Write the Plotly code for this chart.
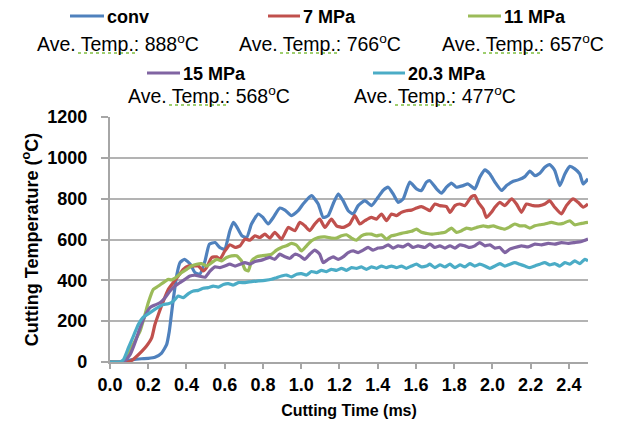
import plotly.graph_objects as go

# ---------------- data ----------------
series_names = ["conv", "7 MPa", "11 MPa", "15 MPa", "20.3 MPa"]
ave_temps = [888, 766, 657, 568, 477]
colors = ["#4F81BD", "#C0504D", "#9BBB59", "#8064A2", "#4BACC6"]

t_conv = [0, 0.05, 0.08, 0.12, 0.165, 0.2, 0.235, 0.27, 0.296, 0.31, 0.33, 0.35, 0.366, 0.39, 0.42, 0.444, 0.47,
          0.497, 0.52, 0.55, 0.575, 0.60, 0.627, 0.645, 0.66, 0.69, 0.715, 0.74, 0.775, 0.80, 0.827, 0.854, 0.888,
          0.915, 0.949, 0.984, 1.01, 1.054, 1.089, 1.115, 1.141, 1.167, 1.193, 1.219, 1.246, 1.272, 1.298, 1.333,
          1.368, 1.402, 1.428, 1.455, 1.481, 1.507, 1.533, 1.568, 1.603, 1.629, 1.655, 1.673, 1.708, 1.734, 1.760,
          1.786, 1.812, 1.847, 1.873, 1.908, 1.934, 1.961, 1.987, 2.013, 2.048, 2.074, 2.109, 2.135, 2.170, 2.196,
          2.222, 2.248, 2.274, 2.300, 2.326, 2.353, 2.379, 2.405, 2.431, 2.457, 2.475, 2.500]
temp_conv = [0, 0, 5, 12, 16, 18, 23, 44, 85, 150, 300, 430, 487, 503, 479, 438, 430, 495, 577, 585, 560, 553, 643,
             684, 667, 618, 610, 676, 725, 708, 676, 708, 754, 744, 717, 741, 774, 815, 774, 708, 717, 774, 823, 790,
             741, 725, 766, 790, 766, 807, 840, 856, 823, 782, 798, 881, 848, 840, 881, 888, 848, 827, 856, 876, 856,
             864, 872, 848, 905, 941, 921, 881, 840, 864, 885, 892, 908, 935, 913, 925, 954, 967, 938, 864, 921, 958,
             946, 921, 872, 897]

t_7 = [0, 0.06, 0.08, 0.105, 0.13, 0.166, 0.19, 0.218, 0.235, 0.253, 0.279, 0.305, 0.331, 0.357, 0.383, 0.41, 0.436,
       0.462, 0.488, 0.505, 0.532, 0.558, 0.575, 0.601, 0.627, 0.654, 0.68, 0.706, 0.732, 0.758, 0.784, 0.81, 0.836,
       0.862, 0.897, 0.932, 0.967, 0.993, 1.019, 1.045, 1.071, 1.097, 1.124, 1.158, 1.185, 1.219, 1.254, 1.28, 1.307,
       1.333, 1.367, 1.394, 1.42, 1.446, 1.472, 1.498, 1.524, 1.55, 1.577, 1.603, 1.629, 1.655, 1.673, 1.699, 1.725,
       1.76, 1.778, 1.804, 1.83, 1.856, 1.891, 1.908, 1.926, 1.952, 1.969, 1.995, 2.013, 2.039, 2.065, 2.1, 2.126,
       2.152, 2.178, 2.213, 2.248, 2.274, 2.3, 2.326, 2.361, 2.387, 2.422, 2.448, 2.475, 2.5]
temp_7 = [0, 0, 0, 3, 20, 52, 77, 118, 184, 233, 298, 356, 389, 421, 454, 470, 470, 470, 446, 462, 512, 515, 503, 544,
          574, 561, 569, 602, 597, 618, 610, 626, 607, 635, 602, 659, 643, 684, 667, 643, 676, 700, 659, 700, 667,
          659, 676, 717, 676, 692, 708, 700, 725, 692, 725, 717, 733, 741, 744, 754, 761, 750, 741, 774, 766, 761,
          733, 766, 774, 766, 810, 815, 782, 749, 708, 733, 758, 782, 766, 799, 774, 733, 774, 766, 766, 774, 790,
          758, 725, 766, 799, 782, 758, 774]

t_11 = [0, 0.07, 0.096, 0.13, 0.157, 0.183, 0.2, 0.227, 0.253, 0.279, 0.305, 0.322, 0.349, 0.375, 0.401, 0.427, 0.453,
        0.479, 0.505, 0.532, 0.558, 0.584, 0.61, 0.636, 0.662, 0.688, 0.706, 0.723, 0.741, 0.767, 0.793, 0.828, 0.845,
        0.871, 0.897, 0.923, 0.949, 0.976, 1.002, 1.028, 1.054, 1.089, 1.124, 1.158, 1.185, 1.211, 1.237, 1.263,
        1.289, 1.315, 1.341, 1.367, 1.394, 1.42, 1.446, 1.472, 1.498, 1.524, 1.55, 1.577, 1.603, 1.629, 1.655, 1.682,
        1.717, 1.752, 1.786, 1.812, 1.839, 1.865, 1.891, 1.917, 1.952, 1.978, 2.004, 2.03, 2.065, 2.091, 2.117,
        2.143, 2.17, 2.196, 2.222, 2.248, 2.274, 2.309, 2.344, 2.37, 2.405, 2.431, 2.466, 2.5]
temp_11 = [0, 0, 44, 102, 151, 233, 290, 356, 372, 389, 405, 402, 417, 438, 454, 470, 479, 482, 470, 487, 503, 495,
           512, 520, 520, 495, 454, 446, 495, 515, 520, 525, 528, 548, 561, 569, 581, 572, 544, 569, 594, 610, 613,
           607, 607, 618, 623, 607, 597, 618, 626, 626, 618, 623, 602, 618, 623, 630, 635, 640, 651, 635, 630, 626,
           630, 635, 656, 635, 643, 656, 651, 659, 667, 662, 667, 659, 651, 662, 676, 667, 667, 656, 667, 672, 676,
           684, 676, 679, 692, 672, 679, 684]

t_15 = [0, 0.07, 0.105, 0.13, 0.157, 0.183, 0.209, 0.235, 0.261, 0.288, 0.314, 0.34, 0.366, 0.392, 0.418, 0.444,
        0.47, 0.497, 0.523, 0.549, 0.575, 0.601, 0.627, 0.654, 0.68, 0.706, 0.732, 0.758, 0.793, 0.836, 0.862, 0.888,
        0.915, 0.941, 0.967, 0.993, 1.019, 1.045, 1.071, 1.097, 1.115, 1.141, 1.167, 1.193, 1.219, 1.246, 1.272,
        1.298, 1.324, 1.35, 1.376, 1.402, 1.428, 1.455, 1.481, 1.507, 1.533, 1.559, 1.585, 1.611, 1.647, 1.673,
        1.699, 1.725, 1.752, 1.778, 1.804, 1.83, 1.856, 1.882, 1.908, 1.934, 1.961, 1.987, 2.013, 2.039, 2.065,
        2.091, 2.117, 2.152, 2.187, 2.222, 2.257, 2.292, 2.326, 2.361, 2.396, 2.431, 2.466, 2.5]
temp_15 = [0, 0, 36, 93, 167, 225, 266, 279, 290, 315, 348, 372, 389, 405, 421, 425, 420, 415, 445, 466, 462, 470,
           479, 470, 479, 487, 479, 492, 499, 512, 503, 528, 515, 508, 528, 520, 503, 528, 548, 528, 487, 503, 515,
           503, 515, 536, 544, 536, 548, 561, 548, 558, 561, 574, 558, 569, 564, 577, 561, 569, 561, 577, 561, 569,
           558, 569, 558, 574, 569, 561, 569, 585, 569, 574, 558, 561, 536, 553, 561, 569, 564, 577, 574, 581, 577,
           585, 581, 585, 590, 602]

t_20 = [0, 0.05, 0.07, 0.096, 0.122, 0.148, 0.174, 0.2, 0.227, 0.253, 0.279, 0.305, 0.331, 0.357, 0.383, 0.41, 0.436,
        0.462, 0.488, 0.514, 0.54, 0.566, 0.593, 0.619, 0.645, 0.671, 0.706, 0.741, 0.776, 0.81, 0.845, 0.871, 0.897,
        0.923, 0.949, 0.976, 1.002, 1.028, 1.054, 1.08, 1.106, 1.132, 1.158, 1.185, 1.211, 1.237, 1.263, 1.289,
        1.315, 1.341, 1.367, 1.394, 1.42, 1.446, 1.472, 1.498, 1.524, 1.55, 1.577, 1.603, 1.629, 1.655, 1.673, 1.699,
        1.725, 1.752, 1.778, 1.804, 1.83, 1.856, 1.882, 1.908, 1.934, 1.961, 1.987, 2.013, 2.039, 2.065, 2.091,
        2.117, 2.143, 2.17, 2.196, 2.222, 2.248, 2.274, 2.3, 2.326, 2.353, 2.379, 2.405, 2.431, 2.457, 2.483, 2.5]
temp_20 = [0, 0, 11, 69, 126, 184, 220, 236, 253, 269, 282, 285, 298, 323, 315, 335, 348, 351, 361, 364, 372, 367,
           380, 384, 377, 389, 389, 394, 397, 400, 405, 413, 421, 426, 417, 430, 433, 426, 443, 438, 449, 443, 454,
           449, 459, 449, 462, 459, 466, 454, 466, 459, 470, 462, 470, 462, 470, 459, 470, 479, 466, 470, 479, 462,
           476, 466, 479, 462, 476, 466, 482, 470, 479, 470, 459, 470, 482, 470, 479, 487, 479, 470, 462, 470, 479,
           487, 476, 482, 470, 487, 479, 495, 482, 503, 495]

x_ticks = [0.0, 0.2, 0.4, 0.6, 0.8, 1.0, 1.2, 1.4, 1.6, 1.8, 2.0, 2.2, 2.4]
y_ticks = [0, 200, 400, 600, 800, 1000, 1200]

xs = [t_conv, t_7, t_11, t_15, t_20]
ys = [temp_conv, temp_7, temp_11, temp_15, temp_20]

# ---------------- layout geometry ----------------
W, H = 619, 423
L, R, T, B = 110, 31, 117, 61
PW, PH = W - L - R, H - T - B
FONT = "Liberation Sans, Arial, sans-serif"


def px(xp):
    return (xp - L) / PW


def py(yp):
    return (H - B - yp) / PH


fig = go.Figure()
for name, x, y, c in zip(series_names, xs, ys, colors):
    fig.add_trace(go.Scatter(x=x, y=y, mode="lines", name=name,
                             line=dict(color=c, width=3.2, shape="spline", smoothing=0.5),
                             showlegend=False))

# custom legend (two rows, with average temperature text under each entry)
legend_pos = [  # (line x0, line x1, line y, ave-text center x, ave-text y)
    (70, 104, 16, 118, 43),
    (268, 300, 16, 320, 43),
    (468, 501, 16, 523, 43),
    (147, 180, 73, 209, 95),
    (373, 405, 73, 435, 95),
]
shapes = []
annotations = []
for name, ave, c, (x0, x1, ly, ax, ay) in zip(series_names, ave_temps, colors, legend_pos):
    shapes.append(dict(type="line", xref="paper", yref="paper", x0=px(x0), x1=px(x1), y0=py(ly), y1=py(ly),
                       line=dict(color=c, width=3)))
    annotations.append(dict(text="<b>%s</b>" % name, xref="paper", yref="paper", x=px(x1 + 1), y=py(ly + 1),
                            xanchor="left", yanchor="middle", showarrow=False,
                            font=dict(family=FONT, size=18, color="#000000")))
    annotations.append(dict(text="Ave. Temp.: %d<sup>o</sup>C" % ave, xref="paper", yref="paper",
                            x=px(ax), y=py(ay), xanchor="center", yanchor="middle", showarrow=False,
                            font=dict(family=FONT, size=19.5, color="#000000")))
    sx = ax - 82
    shapes.append(dict(type="line", xref="paper", yref="paper", x0=px(sx + 42), x1=px(sx + 99),
                       y0=py(ay + 10), y1=py(ay + 10), line=dict(color="#7fbf3f", width=1.5, dash="dot")))

fig.update_layout(
    width=W, height=H,
    margin=dict(l=L, r=R, t=T, b=B, autoexpand=False),
    paper_bgcolor="white", plot_bgcolor="white",
    font=dict(family=FONT, color="#000000"),
    shapes=shapes, annotations=annotations,
    xaxis=dict(range=[0, 2.5], tickvals=x_ticks, ticktext=["<b>%.1f</b>" % v for v in x_ticks],
               showgrid=False, zeroline=False, showline=True, linecolor="#a6a6a6", linewidth=2,
               ticks="outside", ticklen=5, tickcolor="#a6a6a6", tickwidth=1.5,
               tickfont=dict(family=FONT, size=18, color="#000000"),
               title=dict(text="<b>Cutting Time (ms)</b>", font=dict(family=FONT, size=16, color="#000000"),
                          standoff=11),
               automargin=False),
    yaxis=dict(range=[0, 1200], tickvals=y_ticks,
               ticktext=["<b>%d</b>\u00a0\u00a0" % v for v in y_ticks],
               showgrid=True, gridcolor="#b3b3b3", gridwidth=1.5, zeroline=False,
               showline=True, linecolor="#a6a6a6", linewidth=2,
               ticks="outside", ticklen=7, tickcolor="#a6a6a6", tickwidth=1.5,
               tickfont=dict(family=FONT, size=18, color="#000000"),
               title=dict(text="<b>Cutting Temperature (<sup>o</sup>C)</b>",
                          font=dict(family=FONT, size=18, color="#000000"), standoff=4),
               automargin=False),
)

fig.write_html("out.html")
